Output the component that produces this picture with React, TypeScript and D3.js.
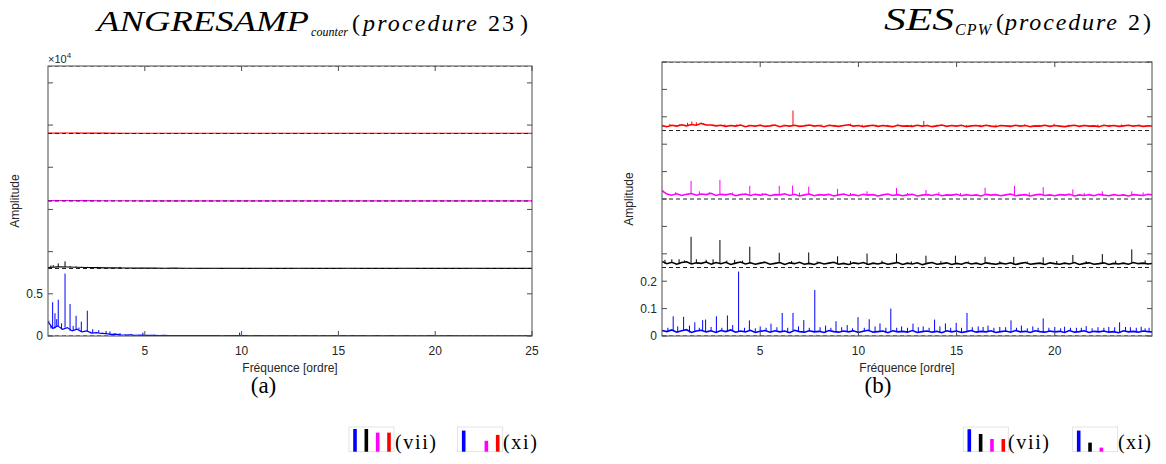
import React from "react";
import * as d3 from "d3";

const W = 1166;
const H = 464;
const SANS = "'Liberation Sans', Arial, Helvetica, sans-serif";
const SERIF = "'Liberation Serif', 'Times New Roman', serif";

// ---------------- Panel (a) data (values ×10^4) ----------------
const aXTicks = [5, 10, 15, 20, 25];
const aYTicks = [0, 0.5, 1, 1.5, 2, 2.5, 3];
const aYTickLabels = ["0", "0.5"];
const aBaselines = [0, 0.8, 1.6, 2.4, 3.2];
const aBlueFloor = [
  0.17, 0.09, 0.12, 0.08, 0.1, 0.06, 0.08, 0.05, 0.06, 0.035,
  0.04, 0.03, 0.028, 0.02, 0.022, 0.015, 0.012, 0.014, 0.009, 0.01,
  0.008, 0.007, 0.008, 0.006, 0.007, 0.005, 0.006, 0.005, 0.006, 0.004,
  0.005, 0.006, 0.004, 0.005, 0.004, 0.005, 0.003, 0.005, 0.004, 0.006,
  0.004, 0.005, 0.003, 0.004, 0.005, 0.003, 0.004, 0.003, 0.005, 0.004,
  0.003, 0.004, 0.003, 0.004, 0.003, 0.005, 0.003, 0.004, 0.003, 0.004,
  0.003, 0.004, 0.002, 0.004, 0.003, 0.004, 0.003, 0.002, 0.004, 0.003,
  0.003, 0.004, 0.002, 0.003, 0.004, 0.002, 0.003, 0.003, 0.002, 0.004,
  0.003, 0.002, 0.003, 0.004, 0.002, 0.003, 0.002, 0.003, 0.003, 0.002,
  0.003, 0.002, 0.003, 0.002, 0.003, 0.002, 0.003, 0.002, 0.002, 0.003,
  0.002,
];
const aBluePeaks: [number, number][] = [
  [0.05, 0.18], [0.15, 0.12], [0.24, 0.4], [0.36, 0.27], [0.45, 0.2], [0.53, 0.43],
  [0.7, 0.15], [0.88, 0.74], [1.0, 0.1], [1.14, 0.38], [1.3, 0.12], [1.45, 0.24],
  [1.6, 0.1], [1.72, 0.17], [1.85, 0.06], [2.03, 0.3], [2.2, 0.05], [2.31, 0.08],
  [2.5, 0.04], [2.62, 0.07], [2.8, 0.04], [3.0, 0.06], [3.2, 0.055], [3.45, 0.03],
  [3.72, 0.035], [4.0, 0.02], [4.3, 0.025], [4.9, 0.04], [5.5, 0.015], [6.0, 0.012],
  [7.4, 0.012], [9.9, 0.04], [12.3, 0.01], [14.8, 0.012], [19.7, 0.012], [20.6, 0.01],
];
const aBlackFloor = [
  0.012, 0.02, 0.018, 0.015, 0.012, 0.01, 0.008, 0.007, 0.006, 0.005,
  0.004, 0.004, 0.003, 0.004, 0.003, 0.003, 0.002, 0.003, 0.002, 0.003,
  0.002, 0.002, 0.003, 0.002, 0.002, 0.002, 0.003, 0.002, 0.002, 0.002,
  0.002, 0.003, 0.002, 0.002, 0.002, 0.002, 0.002, 0.003, 0.002, 0.002,
  0.002, 0.002, 0.002, 0.002, 0.003, 0.002, 0.002, 0.002, 0.002, 0.002,
  0.002,
];
const aBlackPeaks: [number, number][] = [
  [0.15, 0.035], [0.27, 0.04], [0.53, 0.06], [0.88, 0.085], [1.14, 0.03],
  [1.45, 0.025], [1.72, 0.02], [2.03, 0.02], [2.5, 0.012], [3.0, 0.01],
  [3.72, 0.02], [4.9, 0.008],
];
const aMagentaFloor = [
  0.004, 0.006, 0.005, 0.003, 0.003, 0.002, 0.002, 0.002, 0.002, 0.002,
  0.002, 0.002, 0.002, 0.002, 0.002, 0.002, 0.002, 0.002, 0.002, 0.002,
  0.002, 0.002, 0.002, 0.002, 0.002, 0.002,
];
const aMagentaPeaks: [number, number][] = [[0.88, 0.012], [1.5, 0.012]];
const aRedFloor = [
  0.004, 0.006, 0.005, 0.004, 0.003, 0.003, 0.003, 0.003, 0.003, 0.003,
  0.003, 0.003, 0.003, 0.003, 0.003, 0.003, 0.003, 0.003, 0.003, 0.003,
  0.003, 0.003, 0.003, 0.003, 0.003, 0.003,
];
const aRedPeaks: [number, number][] = [[0.88, 0.01], [1.5, 0.014]];

// ---------------- Panel (b) data ----------------
const bXTicks = [5, 10, 15, 20];
const bYTicks = [0, 0.1, 0.2, 0.3, 0.4, 0.5, 0.6, 0.7, 0.8, 0.9, 1.0];
const bYTickLabels = ["0", "0.1", "0.2"];
const bBaselines = [0, 0.25, 0.5, 0.75, 1.0];
const bBlueFloor = [
  0.02, 0.016, 0.022, 0.014, 0.019, 0.023, 0.013, 0.018, 0.021, 0.015,
  0.019, 0.013, 0.02, 0.016, 0.022, 0.014, 0.018, 0.015, 0.021, 0.013,
  0.017, 0.02, 0.014, 0.019, 0.015, 0.018, 0.012, 0.021, 0.016, 0.014,
  0.019, 0.015, 0.017, 0.013, 0.02, 0.016, 0.014, 0.018, 0.015, 0.019,
  0.013, 0.017, 0.021, 0.014, 0.016, 0.018, 0.012, 0.019, 0.015, 0.017,
  0.014, 0.02, 0.013, 0.016, 0.018, 0.014, 0.017, 0.012, 0.019, 0.015,
  0.018, 0.013, 0.016, 0.02, 0.014, 0.017, 0.015, 0.019, 0.013, 0.016,
  0.018, 0.014, 0.02, 0.015, 0.017, 0.013, 0.019, 0.016, 0.014, 0.018,
  0.015, 0.017, 0.013, 0.02, 0.014, 0.016, 0.019, 0.013, 0.017, 0.015,
  0.018, 0.014, 0.016, 0.012, 0.019, 0.015, 0.017, 0.014, 0.018, 0.016,
  0.015,
];
const bBluePeaks: [number, number][] = [
  [0.3, 0.03], [0.57, 0.072], [0.8, 0.035], [1.1, 0.07], [1.4, 0.038], [1.67, 0.05],
  [1.9, 0.03], [2.07, 0.058], [2.22, 0.06], [2.5, 0.033], [2.77, 0.072], [3.05, 0.03],
  [3.33, 0.075], [3.6, 0.04], [3.9, 0.235], [4.2, 0.03], [4.45, 0.057], [4.75, 0.028],
  [5.0, 0.035], [5.3, 0.03], [5.55, 0.045], [5.85, 0.032], [6.12, 0.084], [6.4, 0.03],
  [6.67, 0.084], [6.95, 0.035], [7.22, 0.058], [7.5, 0.03], [7.78, 0.168], [8.05, 0.032],
  [8.33, 0.038], [8.6, 0.03], [8.86, 0.054], [9.15, 0.032], [9.43, 0.04], [9.7, 0.028],
  [9.98, 0.069], [10.3, 0.03], [10.55, 0.061], [10.85, 0.035], [11.1, 0.046], [11.4, 0.03],
  [11.65, 0.1], [11.95, 0.03], [12.2, 0.035], [12.5, 0.03], [12.78, 0.045], [13.05, 0.032],
  [13.3, 0.035], [13.6, 0.03], [13.88, 0.06], [14.15, 0.035], [14.43, 0.046], [14.7, 0.03],
  [14.98, 0.048], [15.25, 0.03], [15.53, 0.084], [15.8, 0.032], [16.1, 0.035], [16.35, 0.033],
  [16.6, 0.038], [16.9, 0.03], [17.2, 0.033], [17.5, 0.032], [17.77, 0.057], [18.05, 0.03],
  [18.3, 0.038], [18.6, 0.028], [18.88, 0.035], [19.15, 0.03], [19.41, 0.064], [19.7, 0.03],
  [20.0, 0.033], [20.3, 0.028], [20.5, 0.034], [20.8, 0.03], [21.1, 0.03], [21.35, 0.03],
  [21.6, 0.036], [21.9, 0.028], [22.2, 0.032], [22.5, 0.03], [22.75, 0.033], [23.05, 0.032],
  [23.3, 0.05], [23.6, 0.033], [23.85, 0.032], [24.15, 0.03], [24.4, 0.034], [24.6, 0.028],
  [24.8, 0.03],
];
const bBlackFloor = [
  0.022, 0.014, 0.019, 0.012, 0.018, 0.021, 0.013, 0.017, 0.015, 0.02,
  0.012, 0.018, 0.014, 0.019, 0.011, 0.016, 0.02, 0.013, 0.017, 0.012,
  0.016, 0.019, 0.012, 0.015, 0.018, 0.011, 0.017, 0.014, 0.019, 0.012,
  0.015, 0.011, 0.018, 0.013, 0.016, 0.019, 0.012, 0.015, 0.011, 0.017,
  0.014, 0.018, 0.011, 0.016, 0.013, 0.017, 0.012, 0.015, 0.018, 0.011,
  0.016, 0.013, 0.017, 0.01, 0.015, 0.018, 0.012, 0.014, 0.017, 0.011,
  0.015, 0.012, 0.018, 0.013, 0.016, 0.011, 0.017, 0.014, 0.012, 0.016,
  0.013, 0.017, 0.011, 0.015, 0.018, 0.012, 0.014, 0.016, 0.011, 0.017,
  0.014, 0.012, 0.016, 0.013, 0.018, 0.011, 0.015, 0.017, 0.012, 0.014,
  0.017, 0.011, 0.015, 0.013, 0.016, 0.012, 0.018, 0.014, 0.016, 0.013,
  0.015,
];
const bBlackPeaks: [number, number][] = [
  [0.15, 0.028], [0.5, 0.03], [0.87, 0.03], [1.15, 0.026], [1.48, 0.112], [1.75, 0.03],
  [2.25, 0.028], [2.6, 0.03], [2.95, 0.1], [3.3, 0.025], [3.7, 0.028], [4.1, 0.025],
  [4.47, 0.076], [5.2, 0.022], [5.97, 0.054], [6.6, 0.024], [7.47, 0.055], [7.9, 0.022],
  [8.94, 0.041], [9.6, 0.024], [10.44, 0.051], [11.2, 0.025], [11.94, 0.051], [12.7, 0.022],
  [13.44, 0.043], [14.2, 0.024], [14.94, 0.043], [15.6, 0.022], [16.45, 0.039], [17.2, 0.023],
  [17.91, 0.039], [18.6, 0.022], [19.41, 0.037], [20.1, 0.024], [20.92, 0.046], [21.6, 0.023],
  [22.42, 0.049], [23.1, 0.025], [23.92, 0.066], [24.6, 0.026],
];
const bMagentaFloor = [
  0.03, 0.018, 0.014, 0.019, 0.013, 0.017, 0.02, 0.014, 0.018, 0.016,
  0.021, 0.013, 0.017, 0.015, 0.019, 0.012, 0.016, 0.018, 0.013, 0.017,
  0.014, 0.018, 0.012, 0.016, 0.015, 0.019, 0.013, 0.017, 0.011, 0.015,
  0.018, 0.012, 0.016, 0.014, 0.017, 0.011, 0.015, 0.018, 0.013, 0.016,
  0.012, 0.017, 0.014, 0.016, 0.011, 0.015, 0.018, 0.013, 0.016, 0.012,
  0.015, 0.017, 0.011, 0.014, 0.016, 0.013, 0.017, 0.012, 0.015, 0.014,
  0.017, 0.012, 0.016, 0.013, 0.015, 0.011, 0.017, 0.014, 0.016, 0.012,
  0.015, 0.018, 0.012, 0.014, 0.016, 0.011, 0.015, 0.017, 0.013, 0.015,
  0.012, 0.016, 0.014, 0.017, 0.011, 0.015, 0.013, 0.016, 0.012, 0.017,
  0.014, 0.012, 0.016, 0.013, 0.015, 0.011, 0.016, 0.014, 0.013, 0.017,
  0.015,
];
const bMagentaPeaks: [number, number][] = [
  [0.05, 0.032], [0.7, 0.025], [1.48, 0.066], [1.9, 0.028], [2.4, 0.025], [2.95, 0.07],
  [3.6, 0.024], [4.47, 0.048], [5.1, 0.022], [5.97, 0.048], [6.65, 0.049], [7.0, 0.023],
  [7.47, 0.045], [8.94, 0.037], [9.6, 0.022], [10.44, 0.028], [11.94, 0.04], [12.5, 0.022],
  [13.44, 0.033], [14.1, 0.025], [15.2, 0.022], [16.45, 0.041], [17.95, 0.048], [18.7, 0.024],
  [19.41, 0.043], [20.92, 0.035], [21.5, 0.022], [22.42, 0.028], [23.92, 0.028], [24.5, 0.024],
];
const bRedFloor = [
  0.018, 0.014, 0.019, 0.016, 0.021, 0.017, 0.022, 0.019, 0.026, 0.02,
  0.02, 0.017, 0.019, 0.015, 0.018, 0.016, 0.02, 0.014, 0.018, 0.016,
  0.019, 0.015, 0.017, 0.02, 0.014, 0.018, 0.016, 0.019, 0.015, 0.017,
  0.02, 0.016, 0.018, 0.014, 0.019, 0.017, 0.015, 0.018, 0.021, 0.016,
  0.018, 0.014, 0.017, 0.019, 0.015, 0.018, 0.016, 0.014, 0.019, 0.016,
  0.017, 0.015, 0.019, 0.016, 0.018, 0.014, 0.017, 0.02, 0.015, 0.018,
  0.016, 0.019, 0.014, 0.017, 0.018, 0.015, 0.019, 0.016, 0.014, 0.018,
  0.017, 0.015, 0.019, 0.016, 0.018, 0.014, 0.017, 0.016, 0.019, 0.015,
  0.018, 0.016, 0.014, 0.017, 0.019, 0.015, 0.018, 0.016, 0.017, 0.014,
  0.019, 0.016, 0.018, 0.015, 0.017, 0.019, 0.016, 0.018, 0.015, 0.017,
  0.016,
];
const bRedPeaks: [number, number][] = [
  [0.4, 0.024], [0.9, 0.023], [1.3, 0.028], [1.52, 0.033], [1.75, 0.03], [2.1, 0.024],
  [2.6, 0.022], [3.2, 0.022], [3.8, 0.022], [4.4, 0.021], [5.0, 0.022], [5.6, 0.022],
  [6.2, 0.021], [6.67, 0.073], [7.3, 0.021], [8.1, 0.022], [8.8, 0.021], [9.6, 0.025],
  [10.2, 0.021], [10.9, 0.021], [11.5, 0.021], [12.0, 0.022], [12.7, 0.021], [13.33, 0.035],
  [14.0, 0.021], [14.7, 0.02], [15.5, 0.02], [16.2, 0.021], [17.0, 0.021], [17.7, 0.02],
  [18.46, 0.022], [19.2, 0.021], [19.96, 0.025], [20.7, 0.021], [21.5, 0.021], [22.2, 0.021],
  [22.8, 0.021], [23.4, 0.022], [24.3, 0.022],
];

// ---------------- Legend data (relative bar heights) ----------------
const legendSlots = ["blue", "black", "magenta", "red"];
const legendAvii = [1.0, 1.0, 0.84, 0.84];
const legendAxi = [0.93, 0, 0.48, 0.74];
const legendBvii = [0.99, 0.78, 0.56, 0.56];
const legendBxi = [0.93, 0.4, 0.18, 0];

type Peak = [number, number];
interface Trace {
  color: string;
  offset: number;
  floor: number[];
  step: number;
  peaks: Peak[];
}
interface Box { x0: number; x1: number; y0: number; y1: number }

const AXIS = "#4d4d4d";

function Panel(props: {
  id: string;
  box: Box;
  xDomain: [number, number];
  yDomain: [number, number];
  xTicks: number[];
  yTicks: number[];
  yTickLabels: string[];
  baselines: number[];
  traces: Trace[];
  floorWidth: number;
}) {
  const { id, box, xDomain, yDomain, xTicks, yTicks, yTickLabels, baselines, traces, floorWidth } = props;
  const x = d3.scaleLinear().domain(xDomain).range([box.x0, box.x1]);
  const y = d3.scaleLinear().domain(yDomain).range([box.y1, box.y0]);
  const line = d3
    .line<[number, number]>()
    .x((d) => x(d[0]))
    .y((d) => y(d[1]));
  const tl = 5;
  return (
    <g>
      <defs>
        <clipPath id={id}>
          <rect x={box.x0} y={box.y0} width={box.x1 - box.x0} height={box.y1 - box.y0} />
        </clipPath>
      </defs>
      <g clipPath={`url(#${id})`}>
        {traces.map((t, ti) => {
          const pts: [number, number][] = t.floor.map((v, i) => [i * t.step, t.offset + v]);
          return (
            <g key={ti} stroke={t.color} fill="none" strokeWidth={1}>
              <path d={line(pts) || ""} strokeWidth={floorWidth} strokeLinejoin="miter" />
              {t.peaks.map(([f, v], pi) => {
                const idx = Math.max(0, Math.min(t.floor.length - 1, Math.round(f / t.step)));
                const base = t.offset + t.floor[idx];
                return (
                  <line key={pi} x1={x(f)} x2={x(f)} y1={y(base)} y2={y(t.offset + v)} />
                );
              })}
            </g>
          );
        })}
        {baselines.map((b, i) => (
          <line
            key={i}
            x1={box.x0}
            x2={box.x1}
            y1={y(b)}
            y2={y(b)}
            stroke="#222"
            strokeWidth={1}
            strokeDasharray="4 3"
          />
        ))}
      </g>
      <rect
        x={box.x0}
        y={box.y0}
        width={box.x1 - box.x0}
        height={box.y1 - box.y0}
        fill="none"
        stroke={AXIS}
        strokeWidth={1}
      />
      {xTicks.map((t) => (
        <g key={"xt" + t}>
          <line x1={x(t)} x2={x(t)} y1={box.y1} y2={box.y1 - tl} stroke={AXIS} />
          <line x1={x(t)} x2={x(t)} y1={box.y0} y2={box.y0 + tl} stroke={AXIS} />
          <text
            x={x(t)}
            y={box.y1 + 19}
            textAnchor="middle"
            fontFamily={SANS}
            fontSize={12}
            fill="#262626"
          >
            {String(t)}
          </text>
        </g>
      ))}
      {yTicks.map((t, i) => (
        <g key={"yt" + i}>
          <line x1={box.x0} x2={box.x0 + tl} y1={y(t)} y2={y(t)} stroke={AXIS} />
          <line x1={box.x1} x2={box.x1 - tl} y1={y(t)} y2={y(t)} stroke={AXIS} />
          {i < yTickLabels.length && (
            <text
              x={box.x0 - 5}
              y={y(t) + 4.3}
              textAnchor="end"
              fontFamily={SANS}
              fontSize={12}
              fill="#262626"
            >
              {yTickLabels[i]}
            </text>
          )}
        </g>
      ))}
      <text
        x={(box.x0 + box.x1) / 2}
        y={box.y1 + 36}
        textAnchor="middle"
        fontFamily={SANS}
        fontSize={12}
        fill="#262626"
      >
        Fréquence [ordre]
      </text>
      <text
        transform={`translate(${box.x0 - 29},${(box.y0 + box.y1) / 2}) rotate(-90)`}
        textAnchor="middle"
        fontFamily={SANS}
        fontSize={12}
        fill="#262626"
      >
        Amplitude
      </text>
    </g>
  );
}

function Legend(props: { x: number; values: number[]; label: string; labelX: number; labelW: number }) {
  const { x, values, label, labelX, labelW } = props;
  const top = 427;
  const bottom = 451.7;
  const px = d3.scalePoint<string>().domain(legendSlots).range([x + 6, x + 40]);
  const h = d3.scaleLinear().domain([0, 1]).range([0, 22.7]);
  const colors: Record<string, string> = { blue: "#0000ff", black: "#000000", magenta: "#ff00ff", red: "#ff0000" };
  return (
    <g>
      <rect x={x} y={top} width={45} height={bottom - top} fill="#fff" stroke="#dcdcdc" strokeWidth={0.8} />
      {legendSlots.map((s, i) =>
        values[i] > 0 ? (
          <rect
            key={s}
            x={(px(s) as number) - 1.8}
            y={bottom - h(values[i])}
            width={3.6}
            height={h(values[i])}
            fill={colors[s]}
          />
        ) : null
      )}
      <text x={labelX} y={449} fontFamily={SERIF} fontSize={20} textLength={labelW} fill="#000">
        {label}
      </text>
    </g>
  );
}

export default function App() {
  const boxA: Box = { x0: 48, x1: 532, y0: 66, y1: 336 };
  const boxB: Box = { x0: 662, x1: 1152, y0: 62, y1: 336 };
  const tracesA: Trace[] = [
    { color: "#0000ff", offset: aBaselines[0], floor: aBlueFloor, step: 0.25, peaks: aBluePeaks },
    { color: "#000000", offset: aBaselines[1], floor: aBlackFloor, step: 0.5, peaks: aBlackPeaks },
    { color: "#ff00ff", offset: aBaselines[2], floor: aMagentaFloor, step: 1, peaks: aMagentaPeaks },
    { color: "#ff0000", offset: aBaselines[3], floor: aRedFloor, step: 1, peaks: aRedPeaks },
  ];
  const tracesB: Trace[] = [
    { color: "#0000ff", offset: bBaselines[0], floor: bBlueFloor, step: 0.25, peaks: bBluePeaks },
    { color: "#000000", offset: bBaselines[1], floor: bBlackFloor, step: 0.25, peaks: bBlackPeaks },
    { color: "#ff00ff", offset: bBaselines[2], floor: bMagentaFloor, step: 0.25, peaks: bMagentaPeaks },
    { color: "#ff0000", offset: bBaselines[3], floor: bRedFloor, step: 0.25, peaks: bRedPeaks },
  ];
  return (
    <svg
      width={W}
      height={H}
      style={{ position: "absolute", left: 0, top: 0, background: "#fff" }}
    >
      <rect width={W} height={H} fill="#fff" />

      {/* Title (a) */}
      <text x={97} y={31} fontFamily={SERIF} fontStyle="italic" fontSize={29} textLength={212} lengthAdjust="spacingAndGlyphs">
        ANGRESAMP
      </text>
      <text x={311} y={36} fontFamily={SERIF} fontStyle="italic" fontSize={12} textLength={37} lengthAdjust="spacing">
        counter
      </text>
      <text x={352} y={31} fontFamily={SERIF} fontSize={24}>(</text>
      <text x={363} y={31} fontFamily={SERIF} fontStyle="italic" fontSize={24} textLength={114} lengthAdjust="spacing">
        procedure
      </text>
      <text x={488} y={31} fontFamily={SERIF} fontSize={24} textLength={26} lengthAdjust="spacing">23</text>
      <text x={520} y={31} fontFamily={SERIF} fontSize={24}>)</text>

      {/* Title (b) */}
      <text x={884} y={30} fontFamily={SERIF} fontStyle="italic" fontSize={31} textLength={70} lengthAdjust="spacingAndGlyphs">
        SES
      </text>
      <text x={955} y={35} fontFamily={SERIF} fontStyle="italic" fontSize={16} textLength={36} lengthAdjust="spacing">
        CPW
      </text>
      <text x={996} y={30} fontFamily={SERIF} fontSize={24}>(</text>
      <text x={1005} y={30} fontFamily={SERIF} fontStyle="italic" fontSize={24} textLength={112} lengthAdjust="spacing">
        procedure
      </text>
      <text x={1128} y={30} fontFamily={SERIF} fontSize={24}>2</text>
      <text x={1143} y={30} fontFamily={SERIF} fontSize={24}>)</text>

      {/* ×10^4 */}
      <text x={48} y={63} fontFamily={SANS} fontSize={11} fill="#262626">
        ×10
        <tspan dy={-5} fontSize={8}>4</tspan>
      </text>

      <Panel
        id="clipA"
        box={boxA}
        xDomain={[0, 25]}
        yDomain={[0, 3.2]}
        xTicks={aXTicks}
        yTicks={aYTicks}
        yTickLabels={aYTickLabels}
        baselines={aBaselines}
        traces={tracesA}
        floorWidth={1.2}
      />
      <Panel
        id="clipB"
        box={boxB}
        xDomain={[0, 24.95]}
        yDomain={[0, 1]}
        xTicks={bXTicks}
        yTicks={bYTicks}
        yTickLabels={bYTickLabels}
        baselines={bBaselines}
        traces={tracesB}
        floorWidth={1.6}
      />

      <text x={263.5} y={393} textAnchor="middle" fontFamily={SERIF} fontSize={23}>(a)</text>
      <text x={878} y={393} textAnchor="middle" fontFamily={SERIF} fontSize={23}>(b)</text>

      <Legend x={349} values={legendAvii} label="(vii)" labelX={395} labelW={41} />
      <Legend x={457.7} values={legendAxi} label="(xi)" labelX={503} labelW={34} />
      <Legend x={963.3} values={legendBvii} label="(vii)" labelX={1008} labelW={41} />
      <Legend x={1072.7} values={legendBxi} label="(xi)" labelX={1118} labelW={33} />
    </svg>
  );
}
